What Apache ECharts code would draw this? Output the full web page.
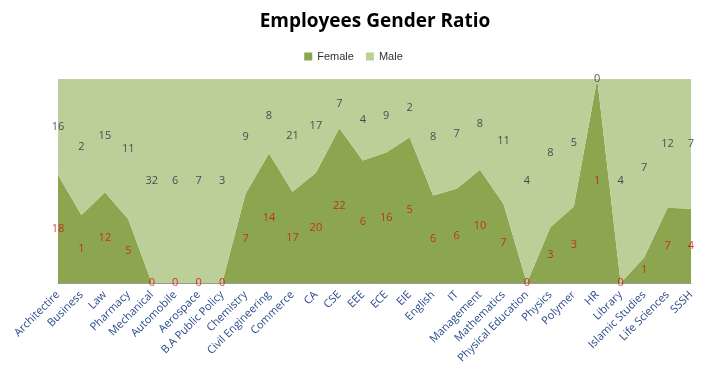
<!DOCTYPE html>
<html>
<head>
<meta charset="utf-8">
<script src="https://cdn.jsdelivr.net/npm/echarts@6/dist/echarts.min.js"></script>
<style>html,body{margin:0;padding:0;background:#fff;}#chart{width:707px;height:378px;}</style>
</head>
<body>
<div id="chart"></div>
<script>
var departments = ['Architectire','Business','Law','Pharmacy','Mechanical','Automobile','Aerospace','B.A Public Policy','Chemistry','Civil Engineering','Commerce','CA','CSE','EEE','ECE','EIE','English','IT','Management','Mathematics','Physical Education','Physics','Polymer','HR','Library','Islamic Studies','Life Sciences','SSSH'];
var female = [18,1,12,5,0,0,0,0,7,14,17,20,22,6,16,5,6,6,10,7,0,3,3,1,0,1,7,4];
var male = [16,2,15,11,32,6,7,3,9,8,21,17,7,4,9,2,8,7,8,11,4,8,5,0,4,7,12,7];

// 100% stacked shares
var femalePct = [], malePct = [], femaleMid = [], maleMid = [];
for (var i = 0; i < departments.length; i++) {
    var total = female[i] + male[i];
    var fp = total ? female[i] / total * 100 : 0;
    femalePct.push(fp);
    malePct.push(100 - fp);
    femaleMid.push(fp / 2);
    maleMid.push(fp + (100 - fp) / 2);
}

var myChart = echarts.init(document.getElementById('chart'));
var option = {
    animation: false,
    title: {
        text: 'Employees Gender Ratio',
        left: 370,
        textAlign: 'center',
        top: 7,
        textStyle: {fontFamily: 'Open Sans', fontWeight: 'bold', fontSize: 19, color: '#000'}
    },
    legend: {
        data: ['Female', 'Male'],
        top: 46,
        left: 'center',
        icon: 'rect',
        itemWidth: 8,
        itemHeight: 8,
        itemGap: 12,
        textStyle: {fontFamily: 'Liberation Sans', fontSize: 11, color: '#333'}
    },
    grid: {left: 58, right: 16, top: 79, bottom: 95, containLabel: false},
    xAxis: {
        type: 'category',
        data: departments,
        boundaryGap: false,
        axisLine: {lineStyle: {color: '#9a9a9a'}},
        axisTick: {show: false},
        axisLabel: {rotate: 45, interval: 0, margin: 10, color: '#2b4a8a', fontFamily: 'Open Sans', fontSize: 11}
    },
    yAxis: {type: 'value', min: 0, max: 100, show: false, splitLine: {show: false}},
    series: [
        {
            name: 'Female', type: 'line', stack: 'g', data: femalePct,
            symbol: 'none', lineStyle: {width: 0},
            itemStyle: {color: '#8ca650'},
            areaStyle: {color: '#8ca650', opacity: 1}
        },
        {
            name: 'Male', type: 'line', stack: 'g', data: malePct,
            symbol: 'none', lineStyle: {width: 0},
            itemStyle: {color: '#bccf98'},
            areaStyle: {color: '#bccf98', opacity: 1}
        },
        {
            name: 'femaleLabels', type: 'scatter', data: femaleMid, symbolSize: 0,
            silent: true, z: 10, clip: false,
            label: {show: true, position: 'inside', color: '#d01010', fontFamily: 'Open Sans', fontSize: 11,
                formatter: function (p) { return female[p.dataIndex]; }}
        },
        {
            name: 'maleLabels', type: 'scatter', data: maleMid, symbolSize: 0,
            silent: true, z: 10, clip: false,
            label: {show: true, position: 'inside', color: '#1e2a3a', fontFamily: 'Open Sans', fontSize: 11,
                formatter: function (p) { return male[p.dataIndex]; }}
        }
    ]
};
myChart.setOption(option);
</script>
</body>
</html>
